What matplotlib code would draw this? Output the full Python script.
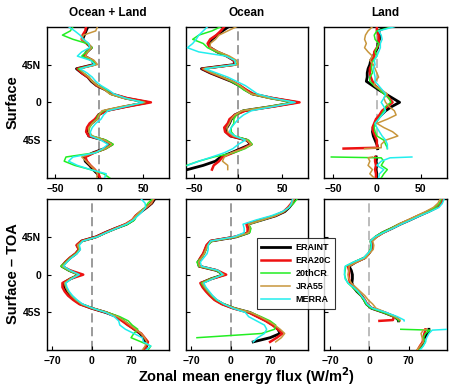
import numpy as np
import matplotlib.pyplot as plt

plt.rcParams['font.family'] = ['Liberation Sans', 'DejaVu Sans']
plt.rcParams['font.weight'] = 'bold'

nan = np.nan

# ===== data =====
lat = [90, 85, 80, 75, 70, 65, 60, 55, 50, 45, 40, 35, 30, 25, 20, 15, 10, 5, 0,
       -5, -10, -15, -20, -25, -30, -35, -40, -45, -50, -55, -60, -65, -70, -75, -80, -85, -90]
lat_land = [90, 85, 80, 75, 70, 65, 60, 55, 50, 45, 40, 35, 30, 25, 20, 15, 10, 5, 0,
            -5, -10, -15, -20, -25, -30, -35, -40, -45, -50, -54, -55, -60, -65, -66,
            -70, -75, -80, -85, -90]

datasets = ['ERAINT', 'ERA20C', '20thCR', 'JRA55', 'MERRA']
colors = ['black', '#ee1111', '#22ee22', '#c8963c', '#22eeee']
widths = [2.0, 1.8, 1.1, 1.1, 1.1]

# Surface, ocean + land
sfc_all_eraint = [-13, -15, -17, -19, -14, -9, -14, -17, -8, -6, -26, -20, -13, -9, -3, 7, 14, 30, 55,
                  30, 7, -1, -3, -9, -13, -14, -12, 5, 14, 6, -7, -17, -16, -11, -7, -2, 0]
sfc_all_era20c = [-15, -16, -19, -20, -14, -9, -15, -17, -8, -5, -25, -20, -13, -8, -3, 8, 15, 32, 59,
                  32, 8, -1, -5, -11, -14, -15, -12, 6, 15, 7, -6, -16, -14, -10, -5, -1, 1]
sfc_all_20cr = [-30, -33, -42, -30, -14, -8, -15, -20, -8, -4, -24, -18, -12, -8, -2, 8, 12, 28, 52,
                28, 5, -1, -3, -8, -11, -12, -8, 8, 16, 8, -5, -38, -40, -28, -10, 5, 12]
sfc_all_jra55 = [-2, -4, -18, -20, -12, -9, -13, -16, -6, -2, -22, -18, -12, -8, -2, 6, 12, 27, 52,
                 25, 3, 0, -2, -8, -12, -12, -8, 6, 14, 7, -6, -20, -15, -10, -5, -2, -3]
sfc_all_merra = [-35, -28, -22, -18, -12, -11, -20, -25, -10, -5, -22, -14, -8, -4, 2, 10, 17, 30, 50,
                 30, 10, 5, 2, -4, -8, -10, -10, 2, 10, 4, -4, -30, -35, -25, -10, 8, 6]

# Surface, ocean
sfc_ocn_eraint = [-11, -18, -24, -30, -34, -32, -24, -13, -5, -4, -42, -32, -20, -8, 1, 8, 16, 38, 66,
                  38, 6, -4, -8, -10, -13, -14, -9, 10, 14, 3, -8, -20, -26, -40, -58, nan, nan]
sfc_ocn_era20c = [-16, -20, -25, -32, -35, -32, -24, -13, -5, -3, -41, -31, -19, -7, 2, 9, 17, 40, 70,
                  40, 8, -4, -10, -12, -16, -15, -9, 10, 15, 5, -6, -18, -22, -28, -30, nan, nan]
sfc_ocn_20cr = [-20, -30, -45, -52, -40, -35, -25, -12, -4, -2, -40, -30, -18, -8, 0, 6, 15, 35, 62,
                35, 4, -2, -5, -5, -8, -8, -4, 12, 16, 8, -5, -28, -45, -59, nan, nan, nan]
sfc_ocn_jra55 = [-2, -12, -22, -26, -32, -32, -22, -10, -2, 0, -40, -30, -18, -6, 2, 8, 15, 35, 64,
                 36, 4, -4, -8, -10, -13, -12, -6, 10, 15, 6, -8, -16, -18, -12, -12, nan, nan]
sfc_ocn_merra = [-35, -40, -45, -48, -52, -58, -45, -14, -4, -3, -38, -25, -12, -2, 8, 15, 22, 40, 65,
                 40, 15, 6, 0, -4, -8, -10, -4, 8, 0, -6, -16, -30, -45, -58, nan, nan, nan]

# Surface, land
sfc_lnd_eraint = [10, 2, 3, 3, 1, 1, -2, -4, -7, -8, -10, -11, -11, -12, -5, 2, 10, 18, 26,
                  17, 10, 5, 0, -2, -4, -5, -4, -2, 0, 1, 1, nan, -1, 0, -1, 0, -1, 0, -1]
sfc_lnd_era20c = [0, 0, 2, 2, 3, 0, -3, -3, -6, -6, -8, -8, -7, -5, -2, 4, 10, 14, 18,
                  12, 6, 3, -1, -3, -5, -4, -2, 0, 0, 1, -38, nan, -2, -2, -2, -1, -2, -1, -1]
sfc_lnd_20cr = [18, 0, -3, -2, 2, 0, -2, 0, -4, -6, -6, -5, -8, -8, -3, 3, 8, 14, 16,
                10, 8, 5, 2, -2, -3, -2, 0, 8, 10, 12, 12, nan, -52, 5, 8, 5, 12, 8, 5]
sfc_lnd_jra55 = [-5, -10, -13, -14, -12, -14, -10, -5, -8, -4, -2, 0, 2, -2, -3, 5, 12, 8, 10,
                 14, 20, 22, 12, 0, 8, 18, 24, 10, 5, 5, -14, nan, -5, -10, -8, -10, -5, -8, -3]
sfc_lnd_merra = [20, 2, 5, 6, 4, 4, 2, 0, -3, -2, -4, -3, -2, -2, 2, 6, 10, 8, 5,
                 8, 10, 6, 2, -2, 0, 3, 6, 10, 12, 12, 12, nan, 40, 15, 5, 0, 8, 3, 2]

# Surface - TOA, ocean + land
toa_all_eraint = [112, 107, 98, 88, 79, 74, 62, 42, 24, 8, -18, -26, -22, -28, -38, -46, -53, -40, -22,
                  -38, -50, -48, -44, -38, -30, -20, 0, 25, 45, 56, 66, 76, 86, 92, 96, 98, 92]
toa_all_era20c = [110, 106, 97, 87, 78, 72, 60, 42, 24, 8, -18, -27, -23, -29, -39, -47, -53, -38, -15,
                  -38, -52, -52, -48, -42, -33, -22, 0, 26, 43, 54, 64, 76, 88, 94, 100, 97, 94]
toa_all_20cr = [108, 100, 95, 86, 80, 76, 64, 44, 26, 10, -16, -25, -22, -28, -38, -46, -55, -42, -24,
                -38, -48, -46, -42, -36, -28, -18, 2, 28, 50, 65, 72, 82, 75, 70, 88, 105, 100]
toa_all_jra55 = [110, 106, 97, 86, 78, 72, 60, 42, 25, 9, -17, -25, -21, -27, -37, -45, -52, -40, -24,
                 -38, -48, -46, -42, -36, -28, -18, 1, 26, 46, 58, 68, 78, 88, 94, 98, 95, 90]
toa_all_merra = [88, 95, 96, 90, 82, 74, 62, 44, 26, 10, -16, -22, -20, -26, -36, -44, -50, -38, -22,
                 -36, -46, -44, -40, -34, -26, -16, 2, 25, 40, 48, 50, 60, 75, 90, 92, 105, 96]

# Surface - TOA, ocean
toa_ocn_eraint = [115, 110, 104, 96, 80, 55, 30, 34, 32, 10, -35, -42, -45, -48, -53, -58, -56, -25, -12,
                  -35, -52, -48, -42, -35, -27, -14, 6, 34, 49, 64, 76, 84, 88, 70, 40, nan, nan]
toa_ocn_era20c = [112, 108, 102, 94, 78, 52, 28, 30, 30, 8, -36, -43, -46, -49, -54, -58, -56, -24, -8,
                  -34, -54, -50, -44, -37, -29, -16, 4, 32, 47, 62, 74, 84, 92, 82, 70, nan, nan]
toa_ocn_20cr = [118, 112, 104, 94, 78, 56, 32, 36, 34, 12, -33, -40, -44, -47, -52, -60, -57, -26, -14,
                -36, -52, -47, -41, -34, -26, -12, 8, 36, 54, 70, 80, 78, 55, -60, nan, nan, nan]
toa_ocn_jra55 = [113, 109, 103, 95, 80, 56, 32, 34, 32, 10, -34, -41, -44, -47, -52, -57, -55, -24, -12,
                 -34, -50, -46, -40, -33, -25, -12, 8, 36, 52, 66, 78, 88, 96, 90, 80, nan, nan]
toa_ocn_merra = [110, 108, 104, 92, 72, 45, 22, 24, 24, 6, -36, -40, -40, -42, -48, -54, -52, -22, -14,
                 -32, -48, -44, -38, -32, -24, -12, 4, 26, 32, 46, 60, 64, 60, 48, 40, nan, nan]

# Surface - TOA, land
toa_lnd_eraint = [130, 128, 120, 105, 88, 72, 55, 40, 24, 12, 3, 4, 4, -1, -8, -24, -36, -32, -30,
                  -30, -31, -28, -22, -14, -9, -5, 4, 26, 45, 52, 52, nan, 106, 106, 104, 98, 96, 92, 86]
toa_lnd_era20c = [130, 127, 119, 104, 87, 71, 54, 40, 24, 12, 4, 4, 4, -1, -8, -24, -38, -36, -36,
                  -36, -34, -28, -20, -14, -8, -4, 5, 27, 44, 42, 18, nan, 100, 100, 98, 96, 95, 90, 86]
toa_lnd_20cr = [128, 125, 118, 102, 86, 70, 52, 38, 22, 10, 2, 3, 2, -2, -10, -28, -42, -43, -44,
                -42, -38, -30, -22, -15, -10, -6, 3, 25, 44, 52, 52, nan, 56, 108, 100, 96, 100, 95, 88]
toa_lnd_jra55 = [126, 122, 114, 100, 84, 68, 52, 40, 26, 14, 6, 8, 7, 0, -6, -22, -36, -36, -38,
                 -36, -32, -24, -16, -8, -2, 6, 12, 30, 46, 55, 55, nan, 102, 96, 92, 94, 96, 90, 84]
toa_lnd_merra = [133, 130, 124, 108, 90, 74, 57, 42, 25, 10, 2, 4, 3, -3, -10, -28, -43, -44, -44,
                 -43, -38, -28, -20, -14, -8, -4, 6, 30, 50, 62, 62, nan, 140, 112, 106, 102, 100, 96, 90]

panels = [
    [sfc_all_eraint, sfc_all_era20c, sfc_all_20cr, sfc_all_jra55, sfc_all_merra],
    [sfc_ocn_eraint, sfc_ocn_era20c, sfc_ocn_20cr, sfc_ocn_jra55, sfc_ocn_merra],
    [sfc_lnd_eraint, sfc_lnd_era20c, sfc_lnd_20cr, sfc_lnd_jra55, sfc_lnd_merra],
    [toa_all_eraint, toa_all_era20c, toa_all_20cr, toa_all_jra55, toa_all_merra],
    [toa_ocn_eraint, toa_ocn_era20c, toa_ocn_20cr, toa_ocn_jra55, toa_ocn_merra],
    [toa_lnd_eraint, toa_lnd_era20c, toa_lnd_20cr, toa_lnd_jra55, toa_lnd_merra],
]
titles = ['Ocean + Land', 'Ocean', 'Land']

# ===== figure =====
W, H = 454, 389
fig = plt.figure(figsize=(W / 100, H / 100), dpi=100)

lefts = [46.7, 185.7, 324.3]
tops = [26.7, 199]
pw, ph = 122.6, 151.3

lines = []
for k in range(6):
    row, col = divmod(k, 3)
    l, t = lefts[col], tops[row]
    ax = fig.add_axes([l / W, 1 - (t + ph) / H, pw / W, ph / H])
    y = lat_land if col == 2 else lat
    zcol = '#aaaaaa' if col == 2 else '#808080'
    ax.axvline(0, color=zcol, lw=1.1, ls=(0, (6, 3)), zorder=1)
    for i in range(5):
        ln, = ax.plot(panels[k][i], y, color=colors[i], lw=widths[i], zorder=2 + i)
        if k == 0:
            lines.append(ln)
    ax.set_ylim(-90, 90)
    if row == 0:
        ax.set_xlim(-60, 80)
        ax.set_xticks([-50, 0, 50])
        ax.set_title(titles[col], fontsize=8.5, fontweight='bold', pad=8)
    else:
        ax.set_xlim(-80, 138)
        ax.set_xticks([-70, 0, 70])
    ax.set_yticks([45, 0, -45])
    if col == 0:
        ax.set_yticklabels(['45N', '0', '45S'])
    else:
        ax.set_yticklabels([])
    ax.tick_params(direction='in', length=3, labelsize=7.5, pad=4, width=0.8)
    for lab in ax.get_xticklabels() + ax.get_yticklabels():
        lab.set_fontweight('bold')
    for s in ax.spines.values():
        s.set_linewidth(1.0)

fig.text(13 / W, 1 - 102 / H, 'Surface', rotation=90, ha='center', va='center',
         fontsize=10.5, fontweight='bold')
fig.text(13 / W, 1 - 274 / H, 'Surface – TOA', rotation=90, ha='center', va='center',
         fontsize=10.5, fontweight='bold')
fig.text(247 / W, 1 - 376 / H, 'Zonal mean energy flux (W/m$^\\mathbf{2}$)', ha='center', va='center',
         fontsize=10.5, fontweight='bold')

leg = fig.legend(lines, datasets, loc='center', bbox_to_anchor=(296 / W, 1 - 273.5 / H),
                 fontsize=6.5, frameon=True, fancybox=False, handlelength=3.2,
                 borderpad=0.5, labelspacing=0.45, handletextpad=0.6, borderaxespad=0)
leg.get_frame().set_edgecolor('black')
leg.get_frame().set_linewidth(0.8)
leg.set_zorder(10)
for t in leg.get_texts():
    t.set_fontweight('bold')

fig.savefig('out.png', dpi=100)
